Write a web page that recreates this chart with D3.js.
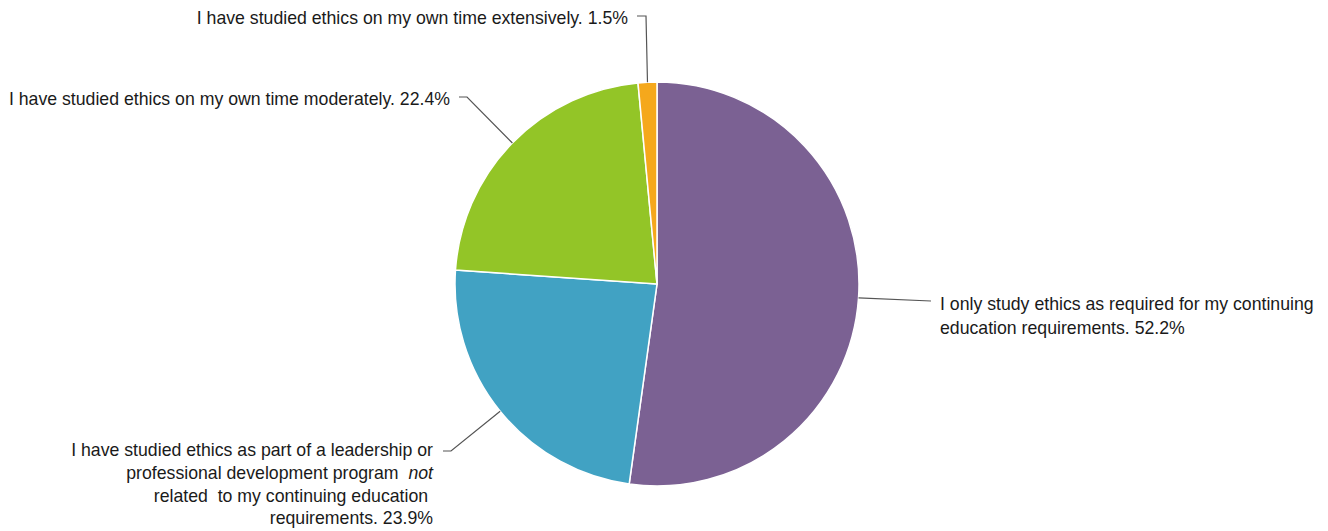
<!DOCTYPE html>
<html>
<head>
<meta charset="utf-8">
<script src="https://cdn.jsdelivr.net/npm/d3@7"></script>
<style>
  html, body { margin: 0; padding: 0; background: #fff; }
  svg { display: block; font-family: "Liberation Sans", Arial, sans-serif; }
</style>
</head>
<body>
<svg id="chart" width="1328" height="531"></svg>
<script>
// ---- data ----
const categories = [
  "I only study ethics as required for my continuing education requirements.",
  "I have studied ethics as part of a leadership or professional development program not related to my continuing education requirements.",
  "I have studied ethics on my own time moderately.",
  "I have studied ethics on my own time extensively."
];
const values = [52.2, 23.9, 22.4, 1.5];
const colors = ["#7b6193", "#41a2c3", "#93c527", "#f5a81c"];
// label text lines (segments: [text, italic])
const labelLines = [
  [[["I only study ethics as required for my continuing", false]], [["education requirements. 52.2%", false]]],
  [[["I have studied ethics as part of a leadership or", false]],
   [["professional development program  ", false], ["not", true]],
   [["related  to my continuing education ", false]],
   [["requirements. 23.9%", false]]],
  [[["I have studied ethics on my own time moderately. 22.4%", false]]],
  [[["I have studied ethics on my own time extensively. 1.5%", false]]]
];

// ---- layout ----
const W = 1328, H = 531;
const cx = 657, cy = 284, R = 202;
const fontSize = 17.7, lineH = 22.8;
// leader elbow / end points and label anchors (layout)
const labelLayout = [
  { elbow: null, end: [931, 301], tx: 940, ty: 310, lh: 24 },
  { elbow: [451, 451], end: [443, 451], tx: 433, ty: 456, lh: 22.8 },
  { elbow: [467, 97], end: [459, 97], tx: 450, ty: 105, lh: 22.8 },
  { elbow: [646, 16], end: [637, 16], tx: 628, ty: 24, lh: 22.8 }
];
const anchors = ["start", "end", "end", "end"];

const svg = d3.select("#chart");
const g = svg.append("g").attr("transform", `translate(${cx},${cy})`);

const pie = d3.pie().sort(null).value(d => d)(values);
const arc = d3.arc().innerRadius(0).outerRadius(R);

g.selectAll("path.slice").data(pie).join("path")
  .attr("class", "slice")
  .attr("d", arc)
  .attr("fill", (d, i) => colors[i])
  .attr("stroke", "#fff")
  .attr("stroke-width", 1.5);

// leader lines and labels
pie.forEach((d, i) => {
  const a = (d.startAngle + d.endAngle) / 2;
  const sx = cx + R * Math.sin(a), sy = cy - R * Math.cos(a);
  const L = labelLayout[i];
  const pts = [[sx, sy]];
  if (L.elbow) pts.push(L.elbow);
  pts.push(L.end);
  svg.append("path")
    .attr("d", d3.line()(pts))
    .attr("fill", "none")
    .attr("stroke", "#555")
    .attr("stroke-width", 1.2);

  const t = svg.append("text")
    .attr("x", L.tx).attr("y", L.ty)
    .attr("text-anchor", anchors[i])
    .attr("font-size", fontSize)
    .attr("fill", "#1a1a1a")
    .style("white-space", "pre");
  labelLines[i].forEach((line, li) => {
    line.forEach((seg, si) => {
      const ts = t.append("tspan").text(seg[0]).attr("font-style", seg[1] ? "italic" : null);
      if (si === 0) ts.attr("x", L.tx).attr("y", L.ty + li * L.lh);
    });
  });
});
</script>
</body>
</html>
